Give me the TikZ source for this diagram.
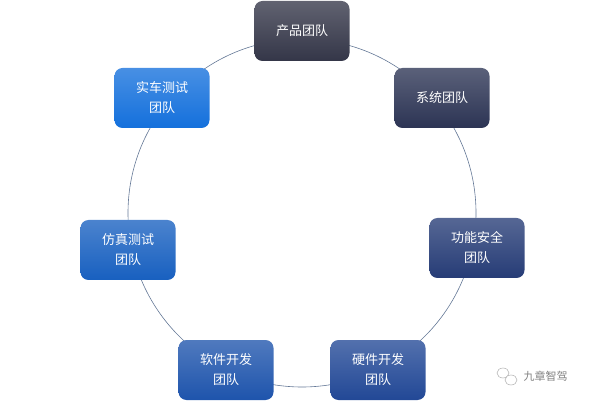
\documentclass[tikz,border=0pt]{standalone}
\usepackage{fontspec}
\newfontfamily\cjk{Noto Sans CJK SC}
\definecolor{ca}{RGB}{52,54,72}
\definecolor{cb}{RGB}{44,52,84}
\definecolor{cc}{RGB}{38,60,118}
\definecolor{cd}{RGB}{34,72,150}
\definecolor{ce}{RGB}{30,84,172}
\definecolor{cf}{RGB}{24,96,192}
\definecolor{cg}{RGB}{20,112,220}
\definecolor{ring}{RGB}{100,120,150}
\begin{document}
\begin{tikzpicture}[x=1pt,y=-1pt,
  team/.style={rounded corners=8pt,minimum width=95pt,minimum height=60pt,
    text=white,font=\cjk\fontsize{13}{20}\selectfont,align=center,draw=none,
    top color=#1!78!white,bottom color=#1}]
\useasboundingbox (0,0) rectangle (605,403);
\draw[draw=ring,line width=0.6pt] (302,213) circle[radius=174];
\node[team=ca] (a) at (302,31) {产品团队};
\node[team=cb] (b) at (442,98) {系统团队};
\node[team=cc] (c) at (477,248) {功能安全\\团队};
\node[team=cd] (d) at (378,370) {硬件开发\\团队};
\node[team=ce] (e) at (226,370) {软件开发\\团队};
\node[team=cf] (f) at (128,250) {仿真测试\\团队};
\node[team=cg] (g) at (162,98) {实车测试\\团队};
\draw[gray!60,line width=0.5pt] (503,373) ellipse[x radius=6,y radius=5];
\draw[gray!60,line width=0.5pt,fill=white] (511,380) ellipse[x radius=6,y radius=5];
\node[text=gray,font=\cjk\fontsize{11}{13}\selectfont,anchor=west] (w) at (520,376) {九章智驾};
\end{tikzpicture}
\end{document}
